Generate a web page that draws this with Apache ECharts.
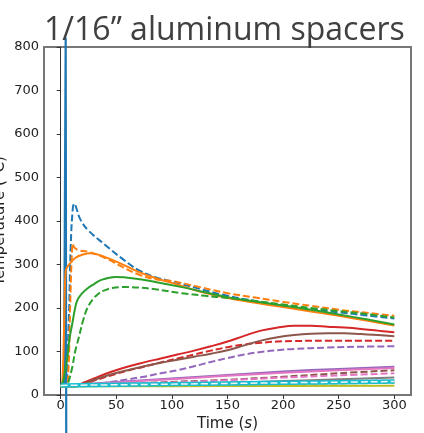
<!DOCTYPE html>
<html>
<head>
<meta charset="utf-8">
<script src="https://cdn.jsdelivr.net/npm/echarts@6/dist/echarts.min.js"></script>
<style>
  html, body { margin: 0; padding: 0; background: #fff; }
  #chart { width: 424px; height: 433px; }
</style>
</head>
<body>
<div id="chart"></div>
<script>
// Tick labels
const xTicks = [0, 50, 100, 150, 200, 250, 300];
const yTicks = [0, 100, 200, 300, 400, 500, 600, 700, 800];

// Temperature traces, [time (s), temperature (°C)]
const blueSolid = [[0, 20], [3, 22], [4.5, 820], [5, -90]];
const blueDashed = [[0, 20], [4, 20], [7, 150], [9, 340], [11, 432], [12.5, 440], [14, 430], [18, 402], [25, 378], [40, 345], [55, 314], [70, 287], [85, 271], [100, 261], [125, 244], [150, 228], [175, 216], [200, 205], [225, 197], [250, 190], [275, 183], [300, 176]];
const orangeSolid = [[0, 20], [1.5, 30], [3, 150], [4.5, 285], [7, 298], [13, 315], [20, 323], [27, 326], [40, 317], [55, 301], [70, 283], [85, 269], [106, 253], [125, 238], [150, 223], [175, 212], [200, 202], [225, 192], [250, 182], [275, 171], [300, 160]];
const orangeDashed = [[0, 20], [5, 20], [7, 60], [8.5, 200], [10, 320], [11, 348], [12, 340], [16, 333], [25, 329], [40, 315], [55, 295], [70, 277], [85, 266], [100, 262], [125, 248], [150, 234], [175, 224], [200, 214], [225, 205], [250, 196], [275, 189], [300, 182]];
const greenSolid = [[0, 20], [2, 30], [4, 55], [6, 87], [8, 130], [10.5, 165], [13, 200], [15, 218], [19, 233], [24, 245], [30, 255], [36, 264], [49, 271], [66, 268], [85, 260], [109, 248], [130, 236], [150, 225], [175, 215], [200, 206], [225, 196], [250, 185], [275, 174], [300, 162]];
const greenDashed = [[0, 20], [5, 20], [7, 30], [10.5, 65], [13, 100], [16.5, 134], [20, 170], [24, 200], [29, 220], [34.5, 234], [40, 241], [46, 246], [55, 248], [61, 248], [70, 247], [85, 243], [109, 234], [130, 228], [150, 223], [175, 216], [200, 208], [225, 200], [250, 193], [275, 186], [300, 178]];
const redSolid = [[0, 20], [12, 20], [20, 28], [30, 38], [45, 53], [60, 65], [75, 75], [90, 84], [105, 93], [120, 102], [135, 112], [150, 123], [165, 136], [180, 148], [195, 155], [210, 159], [225, 159], [240, 157], [255, 155], [270, 152], [285, 148], [300, 144]];
const redDashed = [[0, 20], [15, 20], [30, 33], [45, 45], [60, 56], [75, 65], [90, 75], [105, 84], [120, 93], [135, 102], [150, 110], [165, 116], [180, 120], [195, 123], [210, 124], [240, 125], [270, 125], [300, 125]];
const purpleSolid = [[0, 20], [50, 30], [100, 38], [150, 46], [200, 54], [250, 60], [300, 65]];
const purpleDashed = [[0, 20], [20, 22], [45, 30], [60, 36], [75, 42], [90, 50], [105, 57], [120, 66], [135, 76], [150, 85], [165, 93], [180, 99], [195, 103], [210, 106], [240, 109], [270, 111], [300, 112]];
const brownSolid = [[0, 20], [15, 22], [30, 35], [45, 47], [60, 57], [75, 66], [90, 74], [105, 81], [120, 88], [135, 95], [150, 103], [165, 114], [180, 125], [195, 133], [210, 138], [225, 141], [240, 142], [255, 142], [270, 140], [285, 138], [300, 135]];
const brownDashed = [[0, 20], [50, 25], [100, 30], [150, 35], [200, 42], [250, 50], [300, 57]];
const pinkSolid = [[0, 20], [50, 29], [100, 36], [150, 44], [200, 51], [250, 57], [300, 62]];
const pinkDashed = [[0, 20], [50, 25], [100, 29], [150, 34], [200, 40], [250, 45], [300, 50]];
const graySolid = [[0, 20], [50, 22], [100, 25], [150, 28], [200, 32], [250, 36], [300, 40]];
const grayDashed = [[0, 20], [100, 23], [150, 26], [200, 28], [250, 31], [300, 33]];
const oliveSolid = [[0, 20], [150, 20.5], [300, 21]];
const oliveDashed = [[0, 20], [100, 22], [200, 25], [300, 28]];
const cyanSolid = [[0, 22], [100, 25], [200, 28], [300, 31]];
const cyanDashed = [[0, 21], [100, 24], [200, 27], [300, 29]];
const lightDashed = [[0, 22], [100, 25], [200, 28], [300, 31]];

const C = {
  blue: '#1f77b4', orange: '#ff7f0e', green: '#2ca02c', red: '#d62728',
  purple: '#9467bd', brown: '#8c564b', pink: '#e377c2', gray: '#7f7f7f',
  olive: '#bcbd22', cyan: '#17becf', light: '#f4f4f4'
};

function trace(name, data, color, dashed, width) {
  return {
    name: name,
    type: 'line',
    data: data,
    showSymbol: false,
    symbol: 'none',
    smooth: name === 'blueSolid' ? false : 0.4,
    clip: false,
    animation: false,
    lineStyle: {
      color: color,
      width: width || 2,
      type: dashed ? [7, 3] : 'solid',
      cap: 'butt',
      join: 'round'
    }
  };
}

const series = [
  trace('blueSolid', blueSolid, C.blue, false, 2.2),
  trace('blueDashed', blueDashed, C.blue, true),
  trace('orangeSolid', orangeSolid, C.orange, false),
  trace('orangeDashed', orangeDashed, C.orange, true),
  trace('greenSolid', greenSolid, C.green, false),
  trace('greenDashed', greenDashed, C.green, true),
  trace('redSolid', redSolid, C.red, false),
  trace('redDashed', redDashed, C.red, true),
  trace('purpleSolid', purpleSolid, C.purple, false),
  trace('purpleDashed', purpleDashed, C.purple, true),
  trace('brownSolid', brownSolid, C.brown, false),
  trace('brownDashed', brownDashed, C.brown, true),
  trace('pinkSolid', pinkSolid, C.pink, false),
  trace('pinkDashed', pinkDashed, C.pink, true),
  trace('graySolid', graySolid, C.gray, false),
  trace('grayDashed', grayDashed, C.gray, true),
  trace('oliveSolid', oliveSolid, C.olive, false),
  trace('oliveDashed', oliveDashed, C.olive, true),
  trace('cyanDashed', cyanDashed, C.cyan, true),
  trace('cyanSolid', cyanSolid, C.cyan, false, 4.5),
  trace('lightDashed', lightDashed, C.light, true, 1.5)
];

const chart = echarts.init(document.getElementById('chart'), null, { renderer: 'canvas' });
chart.setOption({
  backgroundColor: '#fff',
  animation: false,
  title: {
    text: '1/16” aluminum spacers',
    left: 39,
    top: 10,
    textStyle: {
      fontFamily: 'Open Sans',
      fontSize: 32,
      fontWeight: 'normal',
      color: '#404040'
    }
  },
  grid: {
    left: 44, right: 13, top: 47, bottom: 38,
    show: true,
    borderColor: '#777',
    borderWidth: 2,
    containLabel: false,
    outerBoundsMode: 'none'
  },
  xAxis: {
    type: 'value',
    min: -15,
    max: 315,
    name: '{a|Time (}{i|s}{a|)}',
    nameLocation: 'middle',
    nameGap: 18,
    nameTextStyle: {
      rich: {
        a: { fontFamily: 'DejaVu Sans', fontSize: 15, color: '#222' },
        i: { fontFamily: 'DejaVu Sans', fontSize: 15, fontStyle: 'italic', color: '#222' }
      }
    },
    axisLine: { show: false },
    splitLine: { show: false },
    axisTick: {
      show: true, inside: false, length: 4,
      customValues: xTicks,
      lineStyle: { color: '#333', width: 1 }
    },
    axisLabel: {
      customValues: xTicks,
      fontFamily: 'DejaVu Sans',
      fontSize: 13,
      color: '#222',
      margin: 4
    }
  },
  yAxis: {
    type: 'value',
    min: 0,
    max: 800,
    interval: 100,
    name: 'Temperature (°C)',
    nameLocation: 'middle',
    nameGap: 36,
    nameMoveOverlap: false,
    nameRotate: 90,
    nameTextStyle: { fontFamily: 'DejaVu Sans', fontSize: 15, color: '#222' },
    axisLine: { show: true, lineStyle: { color: '#333', width: 1 } },
    splitLine: { show: false },
    axisTick: { show: true, inside: false, length: 4, lineStyle: { color: '#333', width: 1 } },
    axisLabel: {
      fontFamily: 'DejaVu Sans',
      fontSize: 13,
      color: '#222',
      margin: 5,
      formatter: function (v) { return yTicks.indexOf(v) >= 0 ? String(v) : ''; }
    }
  },
  series: series
});
</script>
</body>
</html>
